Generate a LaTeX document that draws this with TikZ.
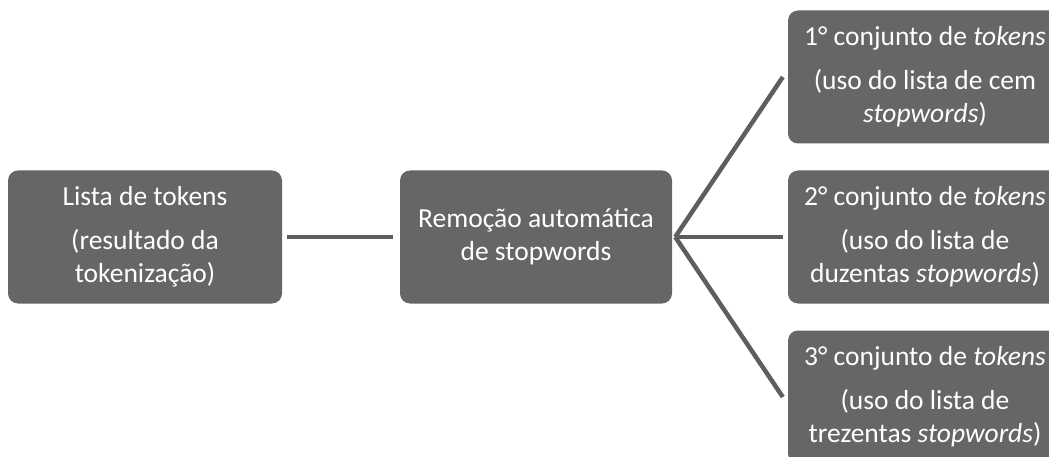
\documentclass[tikz,border=0pt]{standalone}
\usepackage{fontspec}
\setmainfont{Carlito}
\definecolor{boxgray}{HTML}{666666}
\definecolor{linegray}{HTML}{5E5E5E}
\tikzset{
  box/.style={fill=boxgray, rounded corners=10pt, minimum width=274pt, minimum height=133pt,
    text=white, align=center, inner sep=0pt, font=\fontsize{27.5}{33}\selectfont},
  conn/.style={draw=linegray, line width=4.5pt}
}
\begin{document}
\begin{tikzpicture}[x=1pt,y=-1pt]
\useasboundingbox (0,0) rectangle (1049,457);
\clip (0,0) rectangle (1049,457);
\node[box] (lista) at (145,237) {Lista de tokens\\[11pt](resultado da\\tokenização)};
\node[box, minimum width=272pt] (mid) at (536,237) {Remoção automática\\de stopwords};
\node[box] (c1) at (925,77) {1° conjunto de \textit{tokens}\\[11pt](uso do lista de cem\\\textit{stopwords})};
\node[box] (c2) at (925,237) {2° conjunto de \textit{tokens}\\[11pt](uso do lista de\\duzentas \textit{stopwords})};
\node[box] (c3) at (925,397) {3° conjunto de \textit{tokens}\\[11pt](uso do lista de\\trezentas \textit{stopwords})};
\coordinate (fan) at ([xshift=3pt]mid.east);
\draw[conn] ([xshift=5pt]lista.east) -- ([xshift=-7pt]mid.west);
\draw[conn] (fan) -- ([xshift=-5pt]c1.west);
\draw[conn] (fan) -- ([xshift=-5pt]c2.west);
\draw[conn] (fan) -- ([xshift=-5pt]c3.west);
\end{tikzpicture}
\end{document}
